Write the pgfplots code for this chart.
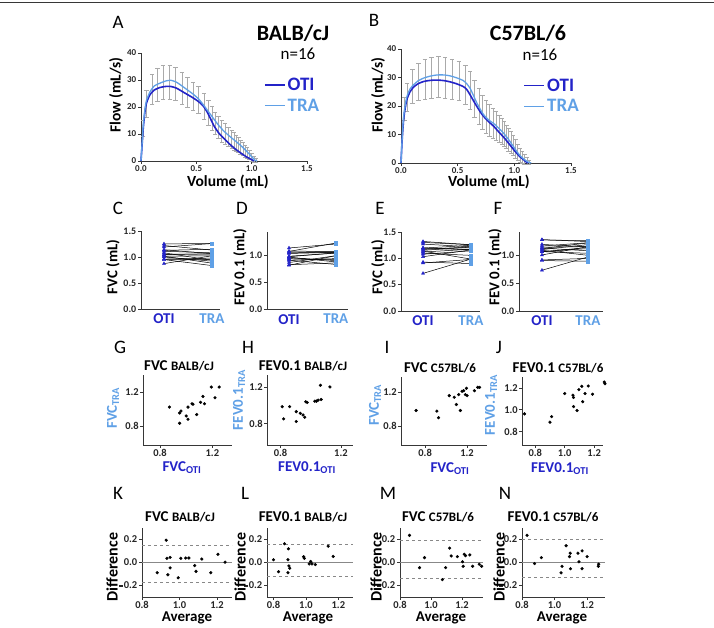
\documentclass[border=0pt]{standalone}
\usepackage{fontspec}
\setmainfont{Carlito}
\usepackage{pgfplots}
\pgfplotsset{compat=1.18}
\usepackage{pgfplotstable}

\definecolor{oti}{RGB}{35,35,200}
\definecolor{tra}{RGB}{95,160,230}
\definecolor{axisgray}{RGB}{55,55,55}
\definecolor{sdgray}{RGB}{170,170,170}

\newcommand\fs[1]{\fontsize{#1}{#1}\selectfont}
% GraphPad-style minus for tick labels
\newcommand\gpminus{\rule[0.22em]{0.38em}{0.11em}\kern0.06em}

% ---------- flow-volume loops ----------
\pgfplotstableread{
v f
0 0
0.01 6
0.02 12
0.035 18
0.05 21.5
0.08 24.5
0.12 26.3
0.17 27.2
0.22 27.6
0.27 27.6
0.32 27
0.37 25.8
0.42 24.6
0.47 23.4
0.52 22
0.56 20.5
0.60 18
0.63 15.5
0.66 13
0.70 10.5
0.75 8.3
0.80 6.3
0.85 4.5
0.90 3
0.95 1.6
1.00 0.5
1.02 0
}\balbOti
\pgfplotstableread{
v f
0 0
0.01 6.5
0.02 13
0.035 19
0.05 22.5
0.08 25.5
0.12 27.8
0.17 28.8
0.22 29.6
0.27 29.9
0.32 29.2
0.37 27.8
0.42 26.3
0.47 24.8
0.52 23
0.56 21
0.60 18.8
0.65 16
0.70 13.3
0.75 11
0.80 9.2
0.85 7.5
0.90 5.8
0.95 3.8
1.00 1.6
1.03 0.3
1.05 0
}\balbTra
\pgfplotstableread{
v f e
0.02 12 3
0.05 21 5
0.10 26.5 5.5
0.15 28.2 6
0.20 29 6.3
0.26 29.2 6.3
0.31 28.5 6.2
0.37 27 6
0.42 25.5 5.5
0.47 24 5.2
0.52 22.5 5
0.57 20.2 4.8
0.61 17.8 4.6
0.64 15.8 4.4
0.67 14 4.2
0.70 12.5 4
0.73 11 3.9
0.76 10 3.8
0.79 9 3.6
0.82 8 3.4
0.84 7.3 3.2
0.86 6.6 3
0.88 6 2.8
0.90 5.2 2.6
0.92 4.5 2.4
0.94 3.7 2.2
0.96 2.9 2
0.98 2.2 1.7
1.00 1.4 1.4
1.02 0.7 1
1.04 0.3 0.6
}\balbSd
\pgfplotstableread{
v f
0 0
0.01 8
0.025 16
0.05 22
0.08 25
0.11 26.6
0.15 27.8
0.20 28.6
0.26 29
0.32 29.1
0.38 28.9
0.43 28.5
0.49 27.8
0.55 26.8
0.58 25.8
0.61 23.9
0.64 21.8
0.67 19.8
0.70 17.9
0.73 16.3
0.77 14.6
0.82 12.8
0.86 11
0.90 9.3
0.93 7.9
0.96 6.4
0.99 4.9
1.02 3.5
1.05 2.2
1.08 1.2
1.10 0.5
1.12 0
}\cblOti
\pgfplotstableread{
v f
0 0
0.01 8.5
0.025 17
0.05 23
0.08 26
0.11 27.4
0.15 28.8
0.20 29.8
0.26 30.5
0.32 30.9
0.38 30.9
0.43 30.6
0.49 29.9
0.55 28.9
0.58 27.8
0.61 26.2
0.64 23.6
0.67 21
0.70 18.8
0.73 16.9
0.77 15.2
0.82 13.8
0.86 12.3
0.90 10.7
0.95 8.2
1.00 5.3
1.03 3.6
1.06 2.2
1.10 0.9
1.13 0.2
1.15 0
}\cblTra
\pgfplotstableread{
v f e
0.03 19 4
0.055 23 5
0.10 27 6
0.155 28.5 6.5
0.21 29.5 7
0.27 30 7.2
0.33 30.2 7.2
0.39 30 7.2
0.45 29.5 7
0.51 28.8 6.8
0.57 27.5 6.8
0.61 25.5 6.7
0.65 22.5 6.5
0.69 19.8 6.3
0.72 17.8 6
0.75 16.3 5.8
0.78 15 5.5
0.81 14 5.3
0.84 13 5
0.87 12 4.8
0.89 11 4.6
0.91 10.2 4.4
0.93 9.2 4.2
0.95 8.2 4
0.97 7.2 3.8
0.99 6.2 3.5
1.01 5 3.2
1.03 3.8 2.8
1.05 2.8 2.4
1.07 2 2
1.09 1.3 1.6
1.11 0.8 1.2
1.13 0.3 0.8
}\cblSd

% ---------- paired values (OTI vs TRA), mL ----------
\pgfplotstableread{
oti tra
0.872 1.024
0.950 0.955
0.960 0.978
0.950 0.835
1.000 0.920
1.014 0.882
1.014 1.024
1.045 1.063
1.052 1.057
1.080 0.937
1.110 1.080
1.128 1.149
1.140 1.063
1.192 1.259
1.220 1.133
1.252 1.259
}\fvcBalb
\pgfplotstableread{
oti tra
0.811 0.986
0.860 0.986
0.820 0.854
0.904 0.932
0.931 0.914
0.949 0.896
0.960 0.871
0.904 0.825
0.967 1.039
0.976 1.032
1.027 1.046
1.038 1.046
1.049 1.057
1.069 1.064
1.064 1.218
1.127 1.200
}\fevBalb
\pgfplotstableread{
oti tra
0.714 0.986
0.912 0.979
0.928 0.901
1.030 1.161
1.078 1.142
1.098 1.056
1.120 1.173
1.136 0.986
1.152 1.212
1.168 1.219
1.184 1.173
1.194 1.247
1.200 1.161
1.270 1.219
1.302 1.258
1.320 1.258
}\fvcCbl
\pgfplotstableread{
oti tra
0.727 0.964
0.900 0.888
0.911 0.939
1.000 1.149
1.056 1.134
1.060 1.113
1.060 1.030
1.084 0.994
1.096 1.185
1.116 1.215
1.122 1.075
1.138 1.149
1.160 1.218
1.189 1.143
1.269 1.254
1.273 1.239
}\fevCbl

% ---------- Bland-Altman: average, difference ----------
\pgfplotstableread{
avg diff
0.881 -0.089
0.929 0.194
0.933 0.036
0.950 0.044
0.938 -0.107
0.950 -0.047
0.993 -0.133
1.007 0.036
1.033 0.039
1.050 0.039
1.081 -0.027
1.088 -0.077
1.119 0.030
1.167 -0.089
1.205 0.071
1.243 0.003
}\baFvcBalb
\pgfplotstableread{
avg diff
0.800 0.024
0.831 -0.080
0.868 0.163
0.892 0.119
0.889 0.024
0.895 -0.030
0.900 -0.050
0.889 -0.089
0.986 0.050
0.990 0.036
1.020 -0.012
1.029 0.009
1.037 -0.012
1.058 -0.018
1.137 0.142
1.168 0.053
}\baFevBalb
\pgfplotstableread{
avg diff
0.861 0.236
0.926 -0.045
0.958 0.042
1.073 -0.149
1.094 -0.045
1.120 0.125
1.130 0.057
1.170 0.051
1.203 0.006
1.207 -0.033
1.214 0.072
1.222 0.060
1.250 0.066
1.268 -0.033
1.311 -0.015
1.326 -0.033
}\baFvcCbl
\pgfplotstableread{
avg diff
0.831 0.236
0.877 -0.009
0.919 0.042
1.040 -0.090
1.046 -0.033
1.071 0.146
1.092 0.051
1.096 0.081
1.098 -0.054
1.144 0.081
1.150 0.006
1.169 0.101
1.169 -0.054
1.200 0.051
1.269 -0.033
1.271 -0.015
}\baFevCbl

\pgfplotsset{
  prism/.style={
    scale only axis,
    anchor=south west,
    axis x line*=bottom, axis y line*=left,
    axis line style={line width=0.9pt, axisgray},
    tick style={line width=0.8pt, axisgray},
    tick align=outside, major tick length=3pt,
    ticklabel style={font=\fs{10}\bfseries, text=black!85, inner sep=1.5pt},
    /pgf/number format/assume math mode=true,
    /pgf/number format/fixed, /pgf/number format/fixed zerofill,
    /pgf/number format/precision=1,
    clip=false,
  },
  loop/.style={prism,
    xmin=0, xmax=1.5, ymin=0, ymax=40,
    xtick={0,0.5,1,1.5}, ytick={0,10,20,30,40},
    yticklabel style={/pgf/number format/precision=0, /pgf/number format/fixed zerofill=false},
    ticklabel style={font=\fs{9}\bfseries},
    legend style={draw=none, fill=none, anchor=north west, font=\fs{19}\bfseries,
      inner sep=0pt, row sep=3pt, legend cell align=left},
    legend image code/.code={\draw[##1] (0pt,0pt) -- (20pt,0pt);},
  },
  sdbars/.style={draw=none, mark=none, forget plot,
    error bars/.cd, y dir=both, y explicit,
    error bar style={sdgray, line width=0.6pt},
    error mark options={sdgray, rotate=90, mark size=2.2pt, line width=0.6pt}},
  paired/.style={prism, xtick={0,1},
    xticklabels={\textcolor{oti}{OTI}, \textcolor{tra}{TRA}},
    xticklabel style={font=\fs{15}\bfseries},
    x tick style={draw=none}, ymin=0},
  pairline/.style={black, line width=0.5pt, mark=none,
    quiver={u=1, v=\thisrow{tra}-\thisrow{oti}}},
  otimark/.style={only marks, mark=triangle*, mark size=1.8pt, oti, mark options={draw=oti, fill=oti}},
  tramark/.style={only marks, mark=square*, mark size=1.5pt, tra, mark options={draw=tra, fill=tra}},
  dots/.style={only marks, mark=*, mark size=1.4pt, black},
  corr/.style={prism, ticklabel style={font=\fs{10.5}\bfseries, inner sep=1pt}},
  ba/.style={prism, ticklabel style={font=\fs{10.5}\bfseries},
    xticklabel style={inner sep=1pt},
    ymin=-0.3, ymax=0.3, ytick={-0.2,0,0.2},
    yticklabels={\gpminus0.2,0.0,0.2},
    xtick={0.8,1.0,1.2}},
  zero/.style={sdgray!80!black, line width=0.9pt},
  loa/.style={sdgray!80!black, dashed, line width=0.6pt},
}

\begin{document}
\begin{tikzpicture}[x=1pt, y=1pt]
\useasboundingbox (0,0) rectangle (714,628);
\draw[axisgray, line width=1pt] (0,625.5) -- (714,625.5);

% ===== A =====
\begin{axis}[loop, at={(141pt,467pt)}, width=166pt, height=108pt,
  legend style={at={(0.74,0.79)}}]
\addplot[sdbars] table[x=v, y=f, y error=e] {\balbSd};
\addplot[oti, line width=1.6pt, smooth, tension=0.4] table[x=v, y=f] {\balbOti};
\addlegendentry{\textcolor{oti}{OTI}}
\addplot[tra, line width=1.3pt, smooth, tension=0.4] table[x=v, y=f] {\balbTra};
\addlegendentry{\textcolor{tra}{TRA}}
\end{axis}

% ===== B =====
\begin{axis}[loop, at={(401pt,465pt)}, width=170pt, height=114pt,
  legend style={at={(0.72,0.76)}}]
\addplot[sdbars] table[x=v, y=f, y error=e] {\cblSd};
\addplot[oti, line width=1.6pt, smooth, tension=0.4] table[x=v, y=f] {\cblOti};
\addlegendentry{\textcolor{oti}{OTI}}
\addplot[tra, line width=1.3pt, smooth, tension=0.4] table[x=v, y=f] {\cblTra};
\addlegendentry{\textcolor{tra}{TRA}}
\end{axis}

% ===== C =====
\begin{axis}[paired, at={(141pt,319pt)}, width=79pt, height=78pt,
  xmin=-0.48, xmax=1.17, ymax=1.5, ytick={0,0.5,1.0,1.5}]
\addplot[pairline] table[x expr=0, y=oti] {\fvcBalb};
\addplot[otimark] table[x expr=0, y=oti] {\fvcBalb};
\addplot[tramark] table[x expr=1, y=tra] {\fvcBalb};
\end{axis}
% ===== D =====
\begin{axis}[paired, at={(267pt,318.5pt)}, width=81pt, height=77.5pt,
  xmin=-0.47, xmax=1.26, ymax=1.42, ytick={0,0.5,1.0}]
\addplot[pairline] table[x expr=0, y=oti] {\fevBalb};
\addplot[otimark] table[x expr=0, y=oti] {\fevBalb};
\addplot[tramark] table[x expr=1, y=tra] {\fevBalb};
\end{axis}
% ===== E =====
\begin{axis}[paired, at={(401pt,317pt)}, width=79pt, height=79pt,
  xmin=-0.46, xmax=1.19, ymax=1.5, ytick={0,0.5,1.0,1.5}]
\addplot[pairline] table[x expr=0, y=oti] {\fvcCbl};
\addplot[otimark] table[x expr=0, y=oti] {\fvcCbl};
\addplot[tramark] table[x expr=1, y=tra] {\fvcCbl};
\end{axis}
% ===== F =====
\begin{axis}[paired, at={(519pt,317pt)}, width=84pt, height=79pt,
  xmin=-0.5, xmax=1.33, ymax=1.41, ytick={0,0.5,1.0}]
\addplot[pairline] table[x expr=0, y=oti] {\fevCbl};
\addplot[otimark] table[x expr=0, y=oti] {\fevCbl};
\addplot[tramark] table[x expr=1, y=tra] {\fevCbl};
\end{axis}

% ===== G-J =====
\begin{axis}[corr, at={(143pt,183pt)}, width=89pt, height=70pt,
  xmin=0.67, xmax=1.35, ymin=0.58, ymax=1.4, xtick={0.8,1.2}, ytick={0.8,1.2}]
\addplot[dots] table[x=oti, y=tra] {\fvcBalb};
\end{axis}
\begin{axis}[corr, at={(267pt,183pt)}, width=86pt, height=70pt,
  xmin=0.71, xmax=1.28, ymin=0.57, ymax=1.33, xtick={0.8,1.2}, ytick={0.8,1.2}]
\addplot[dots] table[x=oti, y=tra] {\fevBalb};
\end{axis}
\begin{axis}[corr, at={(401pt,183pt)}, width=86pt, height=68pt,
  xmin=0.57, xmax=1.39, ymin=0.58, ymax=1.38, xtick={0.8,1.2}, ytick={0.8,1.2}]
\addplot[dots] table[x=oti, y=tra] {\fvcCbl};
\end{axis}
\begin{axis}[corr, at={(522pt,183pt)}, width=81pt, height=68pt,
  xmin=0.71, xmax=1.26, ymin=0.68, ymax=1.3, xtick={0.8,1.0,1.2}, ytick={0.8,1.0,1.2}]
\addplot[dots] table[x=oti, y=tra] {\fevCbl};
\end{axis}

% ===== K-N =====
\begin{axis}[ba, at={(142pt,31pt)}, width=90pt, height=69pt, xmin=0.8, xmax=1.28]
\addplot[zero] coordinates {(0.8,0) (1.28,0)};
\addplot[loa] coordinates {(0.8,0.148) (1.28,0.148)};
\addplot[loa] coordinates {(0.8,-0.172) (1.28,-0.172)};
\addplot[dots] table[x=avg, y=diff] {\baFvcBalb};
\end{axis}
\begin{axis}[ba, at={(267pt,31pt)}, width=86pt, height=69pt, xmin=0.76, xmax=1.29]
\addplot[zero] coordinates {(0.76,0) (1.29,0)};
\addplot[loa] coordinates {(0.76,0.157) (1.29,0.157)};
\addplot[loa] coordinates {(0.76,-0.119) (1.29,-0.119)};
\addplot[dots] table[x=avg, y=diff] {\baFevBalb};
\end{axis}
\begin{axis}[ba, at={(400pt,31pt)}, width=83pt, height=69pt, xmin=0.8, xmax=1.335]
\addplot[zero] coordinates {(0.8,0) (1.335,0)};
\addplot[loa] coordinates {(0.8,0.194) (1.335,0.194)};
\addplot[loa] coordinates {(0.8,-0.137) (1.335,-0.137)};
\addplot[dots] table[x=avg, y=diff] {\baFvcCbl};
\end{axis}
\begin{axis}[ba, at={(522pt,31pt)}, width=83pt, height=69pt, xmin=0.8, xmax=1.31]
\addplot[zero] coordinates {(0.8,0) (1.31,0)};
\addplot[loa] coordinates {(0.8,0.2) (1.31,0.2)};
\addplot[loa] coordinates {(0.8,-0.128) (1.31,-0.128)};
\addplot[dots] table[x=avg, y=diff] {\baFevCbl};
\end{axis}

% ===== panel letters =====
\begin{scope}[every node/.style={font=\fs{19}, inner sep=0pt}]
\node at (118,606) {A};  \node at (374,608) {B};
\node at (118,420) {C};  \node at (242,420) {D};
\node at (380,420) {E};  \node at (498,420) {F};
\node at (120,281) {G};  \node at (248,281) {H};
\node at (387,281) {I};  \node at (499,281) {J};
\node at (118,135) {K};  \node at (245,135) {L};
\node at (388,135) {M};  \node at (505,135) {N};
\end{scope}

% ===== strain headers =====
\node[font=\fs{22}\bfseries] at (293,595) {BALB/cJ};
\node[font=\fs{17}] at (298,574) {n=16};
\node[font=\fs{22}\bfseries] at (528,595) {C57BL/6};
\node[font=\fs{17}] at (540,573) {n=16};

% ===== axis titles =====
\begin{scope}[every node/.style={font=\fs{15.5}\bfseries, inner sep=0pt}]
\node[rotate=90] at (116,533) {Flow (mL/s)};
\node[rotate=90] at (378,533) {Flow (mL/s)};
\node at (228,446) {Volume (mL)};
\node at (489,446) {Volume (mL)};
\end{scope}
\begin{scope}[every node/.style={font=\fs{15}\bfseries, inner sep=0pt, rotate=90}]
\node at (113,361) {FVC (mL)};
\node at (240,361) {FEV 0.1 (mL)};
\node at (378,361) {FVC (mL)};
\node at (495,361) {FEV 0.1 (mL)};
\node[text=tra] at (113,220) {FVC\textsubscript{TRA}};
\node[text=tra] at (239,228) {FEV0.1\textsubscript{TRA}};
\node[text=tra] at (375,223) {FVC\textsubscript{TRA}};
\node[text=tra] at (491,223) {FEV0.1\textsubscript{TRA}};
\node[font=\fs{16}\bfseries] at (112,61) {Difference};
\node[font=\fs{16}\bfseries] at (240,61) {Difference};
\node[font=\fs{16}\bfseries] at (376,61) {Difference};
\node[font=\fs{16}\bfseries] at (499,61) {Difference};
\end{scope}
\begin{scope}[every node/.style={font=\fs{15}\bfseries, inner sep=0pt}]
\node[text=oti] at (182,160) {FVC\textsubscript{OTI}};
\node[text=oti] at (307,160) {FEV0.1\textsubscript{OTI}};
\node[text=oti] at (450,159) {FVC\textsubscript{OTI}};
\node[text=oti] at (560,159) {FEV0.1\textsubscript{OTI}};
\node at (187,10) {Average};
\node at (308,10) {Average};
\node at (441,10) {Average};
\node at (562,10) {Average};
\end{scope}

% ===== panel titles =====
\begin{scope}[every node/.style={inner sep=0pt}]
\node at (179,262) {\fs{15}\bfseries FVC \fs{13}BALB/cJ};
\node at (303,262) {\fs{15}\bfseries FEV0.1 \fs{13}BALB/cJ};
\node at (440,260) {\fs{15}\bfseries FVC \fs{13}C57BL/6};
\node at (558,260) {\fs{15}\bfseries FEV0.1 \fs{13}C57BL/6};
\node at (180,111) {\fs{15}\bfseries FVC \fs{13}BALB/cJ};
\node at (303,111) {\fs{15}\bfseries FEV0.1 \fs{13}BALB/cJ};
\node at (438,111) {\fs{15}\bfseries FVC \fs{13}C57BL/6};
\node at (553,111) {\fs{15}\bfseries FEV0.1 \fs{13}C57BL/6};
\end{scope}
\end{tikzpicture}
\end{document}
